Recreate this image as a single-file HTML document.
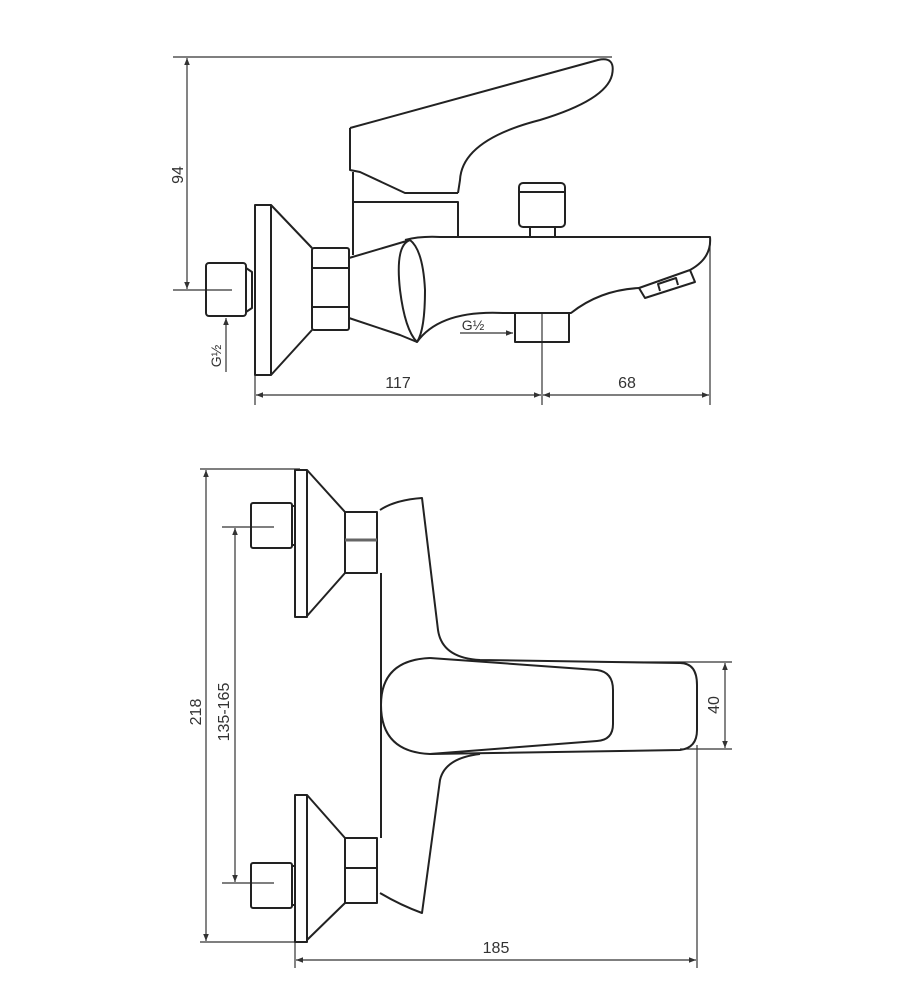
<!DOCTYPE html>
<html><head><meta charset="utf-8"><style>
html,body{margin:0;padding:0;background:#fff;}
svg{display:block;}
text{font-family:"Liberation Sans",sans-serif;font-size:16px;fill:#333;}
</style></head><body>
<svg width="909" height="1000" viewBox="0 0 909 1000" xmlns="http://www.w3.org/2000/svg">
<defs>
<marker id="a" viewBox="0 0 10 10" refX="10" refY="5" markerWidth="9" markerHeight="7" orient="auto-start-reverse" markerUnits="userSpaceOnUse"><path d="M0,1 L10,5 L0,9 z" fill="#333"/></marker>
</defs>
<g fill="none" stroke="#333" stroke-width="1.2">
<line x1="173" y1="57" x2="612" y2="57"/>
<line x1="187" y1="58" x2="187" y2="289" marker-start="url(#a)" marker-end="url(#a)"/>
<line x1="173" y1="290" x2="232" y2="290"/>
<line x1="226" y1="372" x2="226" y2="318" marker-end="url(#a)"/>
<line x1="460" y1="333" x2="513" y2="333" marker-end="url(#a)"/>
<line x1="255" y1="375" x2="255" y2="405"/>
<line x1="542" y1="313" x2="542" y2="405"/>
<line x1="710" y1="240" x2="710" y2="405"/>
<line x1="256" y1="395" x2="541" y2="395" marker-start="url(#a)" marker-end="url(#a)"/>
<line x1="543" y1="395" x2="709" y2="395" marker-start="url(#a)" marker-end="url(#a)"/>
</g>
<g fill="none" stroke="#222" stroke-width="2" stroke-linejoin="round">
<rect x="206" y="263" width="40" height="53" rx="3"/>
<path d="M246,268 L252,272 L252,308 L246,312"/>
<rect x="255" y="205" width="16" height="170"/>
<path d="M271,205 L312,248 M312,330 L271,375"/>
<rect x="312" y="248" width="37" height="82" rx="2"/>
<line x1="312" y1="268" x2="349" y2="268"/><line x1="312" y1="307" x2="349" y2="307"/>
<path d="M349,258 L410,240 M349,318 L400,335 L417,342"/>
<path d="M410,240 Q395,245 400,290 Q405,330 417,342 Q425,330 425,290 Q423,250 410,240"/>
<path d="M405,240 Q420,236 440,237 L710,237 Q712,258 690,270"/>
<path d="M417,342 Q440,310 503,313 L571,313 Q600,290 639,288"/>
<path d="M639,288 L645,298 L695,282 L690,270 L639,288 Z"/>
<path d="M660,291 L658,284 L676,278 L678,285"/>
<rect x="515" y="313" width="54" height="29"/>
<rect x="519" y="183" width="46" height="44" rx="4"/>
<line x1="519" y1="192" x2="565" y2="192"/>
<rect x="530" y="227" width="25" height="10"/>
<path d="M353,255 L353,172 M353,202 L458,202 L458,237"/>
<path d="M350,128 L350,170 L360,172 L405,193 L458,193"/>
<path d="M350,128 L598,60 Q616,56 612,75 Q606,100 540,120 Q462,140 460,180 L458,193"/>
</g>
<text x="0" y="0" transform="translate(183,175) rotate(-90)" text-anchor="middle">94</text>
<text x="0" y="0" transform="translate(221,356) rotate(-90)" text-anchor="middle" style="font-size:14px">G½</text>
<text x="473" y="330" text-anchor="middle" style="font-size:14px">G½</text>
<text x="398" y="388" text-anchor="middle">117</text>
<text x="627" y="388" text-anchor="middle">68</text>

<g fill="none" stroke="#333" stroke-width="1.2">
<line x1="200" y1="469" x2="300" y2="469"/>
<line x1="200" y1="942" x2="300" y2="942"/>
<line x1="206" y1="470" x2="206" y2="941" marker-start="url(#a)" marker-end="url(#a)"/>
<line x1="222" y1="527" x2="274" y2="527"/>
<line x1="222" y1="883" x2="274" y2="883"/>
<line x1="235" y1="528" x2="235" y2="882" marker-start="url(#a)" marker-end="url(#a)"/>
<line x1="600" y1="662" x2="732" y2="662"/>
<line x1="680" y1="749" x2="732" y2="749"/>
<line x1="725" y1="663" x2="725" y2="748" marker-start="url(#a)" marker-end="url(#a)"/>
<line x1="295" y1="942" x2="295" y2="968"/>
<line x1="697" y1="745" x2="697" y2="968"/>
<line x1="296" y1="960" x2="696" y2="960" marker-start="url(#a)" marker-end="url(#a)"/>
</g>
<g fill="none" stroke="#222" stroke-width="2" stroke-linejoin="round">
<rect x="251" y="503" width="41" height="45" rx="2"/>
<line x1="292" y1="506" x2="295" y2="506"/><line x1="292" y1="545" x2="295" y2="545"/>
<rect x="295" y="470" width="12" height="147"/>
<path d="M307,470 L345,512 M345,573 L307,616"/>
<rect x="345" y="512" width="32" height="61"/>
<line x1="345" y1="540" x2="377" y2="540" stroke-width="3" stroke="#666"/>
<rect x="251" y="863" width="41" height="45" rx="2"/>
<line x1="292" y1="866" x2="295" y2="866"/><line x1="292" y1="905" x2="295" y2="905"/>
<rect x="295" y="795" width="12" height="147"/>
<path d="M307,795 L345,838 M345,903 L307,940"/>
<rect x="345" y="838" width="32" height="65"/>
<line x1="345" y1="868" x2="377" y2="868"/>
<path d="M380,510 Q395,500 422,498 L438,630 Q442,658 480,660 L680,663"/>
<path d="M381,573 L381,838"/>
<path d="M480,754 Q445,758 440,780 L422,913 Q400,905 380,893"/>
<path d="M430,658 Q381,660 381,705 Q381,752 430,754 L680,750 Q697,748 697,730 L697,685 Q697,663 680,663"/>
<path d="M430,658 L597,670 Q613,672 613,690 L613,724 Q613,740 597,741 L430,754"/>
</g>
<text x="0" y="0" transform="translate(201,712) rotate(-90)" text-anchor="middle">218</text>
<text x="0" y="0" transform="translate(229,712) rotate(-90)" text-anchor="middle">135-165</text>
<text x="0" y="0" transform="translate(719,705) rotate(-90)" text-anchor="middle">40</text>
<text x="496" y="953" text-anchor="middle">185</text>
</svg>
</body></html>
